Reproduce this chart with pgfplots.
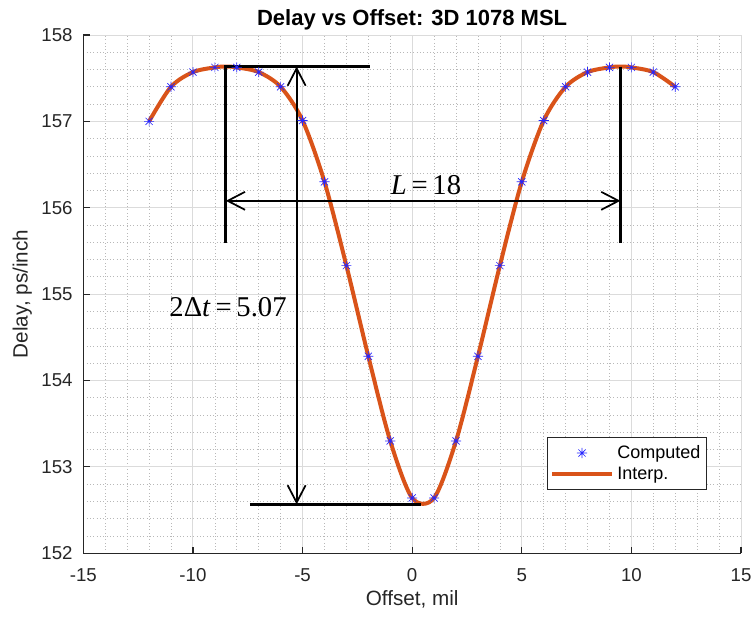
\documentclass[border=0pt]{standalone}
\usepackage{fontspec}
\setmainfont{Liberation Sans}
\newfontfamily\annfont{Liberation Serif}
\usepackage{pgfplots}
\pgfplotsset{compat=1.18}
\usetikzlibrary{arrows.meta}

\definecolor{interp}{rgb}{0.85,0.325,0.098}
\definecolor{axgray}{rgb}{0.15,0.15,0.15}
\definecolor{markblue}{rgb}{0.15,0.15,1}

% eight-armed asterisk (plus and cross)
\pgfdeclareplotmark{star8}{%
  \pgfpathmoveto{\pgfqpoint{-\pgfplotmarksize}{0pt}}%
  \pgfpathlineto{\pgfqpoint{\pgfplotmarksize}{0pt}}%
  \pgfpathmoveto{\pgfqpoint{0pt}{-\pgfplotmarksize}}%
  \pgfpathlineto{\pgfqpoint{0pt}{\pgfplotmarksize}}%
  \pgfpathmoveto{\pgfqpoint{-0.707\pgfplotmarksize}{-0.707\pgfplotmarksize}}%
  \pgfpathlineto{\pgfqpoint{0.707\pgfplotmarksize}{0.707\pgfplotmarksize}}%
  \pgfpathmoveto{\pgfqpoint{-0.707\pgfplotmarksize}{0.707\pgfplotmarksize}}%
  \pgfpathlineto{\pgfqpoint{0.707\pgfplotmarksize}{-0.707\pgfplotmarksize}}%
  \pgfusepathqstroke}

\tikzset{barb/.tip={Straight Barb[length=13pt,width=13.5pt]}}

\pgfplotsset{
  markleg/.style={legend image code/.code={%
    \draw[mark repeat=2,mark phase=2,##1]
      plot coordinates {(0pt,0pt) (22.5pt,0pt) (45pt,0pt)};}},
  lineleg/.style={legend image code/.code={%
    \draw[##1] (0pt,0pt) -- (45pt,0pt);}},
}

\begin{document}
\begin{tikzpicture}
\begin{axis}[
  scale only axis, width=493.3pt, height=388.7pt,
  xmin=-15, xmax=15, ymin=152, ymax=158,
  xtick={-15,-10,...,15}, ytick={152,153,...,158},
  minor x tick num=4, minor y tick num=4,
  axis x line*=bottom, axis y line*=left,
  axis line style={axgray, line width=0.9pt, -},
  tick align=inside, major tick length=5pt, minor tick length=0pt,
  tick style={axgray, line width=0.9pt},
  grid=both,
  major grid style={black!14, line width=0.7pt},
  minor grid style={black!28, line width=0.5pt, dotted},
  ticklabel style={font=\fontsize{14}{16}\selectfont, text=axgray},
  xticklabel style={yshift=-8pt},
  yticklabel style={xshift=-4.5pt},
  /pgf/number format/assume math mode=true,
  xlabel={Offset, mil}, ylabel={Delay, ps/inch},
  label style={font=\fontsize{15.5}{18}\selectfont, text=axgray},
  xlabel style={at={(axis description cs:0.5,-0.0888)}, anchor=center},
  ylabel style={at={(axis description cs:-0.0927,0.5)}, anchor=center},
  title={Delay vs Offset: 3D 1078 MSL},
  title style={font=\bfseries\fontsize{16.5}{19}\selectfont,
    at={(axis description cs:0.5,1)}, anchor=center, yshift=5.25pt},
  legend style={at={(rel axis cs:0.948,0.122)}, anchor=south east,
    font=\fontsize{13.5}{16}\selectfont, draw=axgray, line width=0.6pt,
    inner xsep=2pt, inner ysep=3.5pt, nodes={inner sep=2.5pt}},
  legend cell align=left,
]

% computed delay samples
\addplot[only marks, mark=star8, mark size=3.8pt, markblue,
  mark options={line width=0.5pt}, markleg]
coordinates {
  (-12,157.00) (-11,157.40) (-10,157.57) (-9,157.625) (-8,157.625)
  (-7,157.57) (-6,157.40) (-5,157.01) (-4,156.30) (-3,155.33)
  (-2,154.28) (-1,153.30) (0,152.64) (1,152.64) (2,153.30)
  (3,154.28) (4,155.33) (5,156.30) (6,157.01) (7,157.40)
  (8,157.57) (9,157.625) (10,157.625) (11,157.57) (12,157.40)
};
\addlegendentry{Computed}

% interpolated curve
\addplot[interp, line width=3pt, smooth, no markers, lineleg]
coordinates {
  (-12,157.00) (-11,157.40) (-10,157.57) (-9,157.625) (-8.5,157.635) (-8,157.625)
  (-7,157.57) (-6,157.40) (-5,157.01) (-4,156.30) (-3,155.33)
  (-2,154.28) (-1,153.30) (0,152.64) (1,152.64) (2,153.30)
  (3,154.28) (4,155.33) (5,156.30) (6,157.01) (7,157.40)
  (8,157.57) (9,157.625) (9.5,157.635) (10,157.625) (11,157.57) (12,157.40)
};
\addlegendentry{Interp.}

% dimension annotations
\draw[line width=2.5pt] (axis cs:-8.5,155.59) -- (axis cs:-8.5,157.635) -- (axis cs:-1.92,157.635);
\draw[line width=2.5pt] (axis cs:9.5,157.635) -- (axis cs:9.5,155.59);
\draw[line width=2.5pt] (axis cs:-7.4,152.565) -- (axis cs:0.4,152.565);
\draw[line width=1.3pt, barb-barb] (axis cs:-8.5,156.08) -- (axis cs:9.5,156.08);
\draw[line width=1.3pt, barb-barb] (axis cs:-5.27,157.635) -- (axis cs:-5.27,152.565);
\node[font=\annfont\fontsize{21.5}{24}\selectfont] at (axis cs:0.63,156.264)
  {\textit{L}\,=\,18};
\node[font=\annfont\fontsize{21.5}{24}\selectfont] at (axis cs:-8.4,154.85)
  {2Δ\textit{t}\,=\,5.07};
\end{axis}
\pgfresetboundingbox
\path[use as bounding box] ([shift={(-62.5pt,-47.8pt)}]current axis.south west)
  rectangle ([shift={(9pt,26.25pt)}]current axis.north east);
\end{tikzpicture}
\end{document}
